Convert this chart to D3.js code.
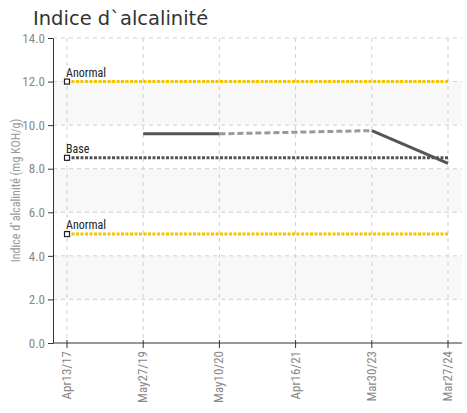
<!DOCTYPE html>
<html>
<head>
<meta charset="utf-8">
<script src="https://cdn.jsdelivr.net/npm/d3@7"></script>
<style>
  body { margin: 0; background: #fff; }
  svg text { font-family: "Liberation Sans Narrow", "Roboto Condensed", "Liberation Sans", sans-serif; }
</style>
</head>
<body>
<svg id="chart" width="467" height="413"></svg>
<script>
var dates = ["Apr13/17", "May27/19", "May10/20", "Apr16/21", "Mar30/23", "Mar27/24"];
var values = [null, 9.6, 9.6, null, 9.75, 8.25];
var yTicks = [0, 2, 4, 6, 8, 10, 12, 14];
var refNames = ["Anormal", "Base", "Anormal"];
var refValues = [12, 8.5, 5];
var refColors = ["#f5c400", "#555555", "#f5c400"];

var svg = d3.select("#chart"),
    MARGINS = {top: 38, right: 5, bottom: 70, left: 53},
    WIDTH = 467, HEIGHT = 413;

var xScale = d3.scalePoint()
    .domain(dates)
    .range([67, 448]);

var yScale = d3.scaleLinear()
    .domain([0, 14])
    .range([HEIGHT - MARGINS.bottom, MARGINS.top]);

var x0 = MARGINS.left, x1 = WIDTH - MARGINS.right;

// alternating bands
[[10, 12], [6, 8], [2, 4]].forEach(function(b){
    svg.append("rect")
        .attr("x", x0).attr("width", x1 - x0)
        .attr("y", yScale(b[1])).attr("height", yScale(b[0]) - yScale(b[1]))
        .attr("fill", "#f8f8f8");
});

// grid
svg.append("g").selectAll("line").data(yTicks.slice(1)).join("line")
    .attr("x1", x0).attr("x2", x1)
    .attr("y1", function(d){ return yScale(d); })
    .attr("y2", function(d){ return yScale(d); })
    .attr("stroke", "#d0d0d0").attr("stroke-dasharray", "4,4");
svg.append("g").selectAll("line").data(dates).join("line")
    .attr("x1", function(d){ return xScale(d); })
    .attr("x2", function(d){ return xScale(d); })
    .attr("y1", yScale(14)).attr("y2", yScale(0))
    .attr("stroke", "#d0d0d0").attr("stroke-dasharray", "4,4");

// reference lines
refValues.forEach(function(v, i){
    svg.append("line")
        .attr("x1", xScale(dates[0])).attr("x2", xScale(dates[dates.length - 1]))
        .attr("y1", yScale(v)).attr("y2", yScale(v))
        .attr("stroke", refColors[i]).attr("stroke-width", 3)
        .attr("stroke-dasharray", "3,1.5");
    svg.append("rect")
        .attr("x", xScale(dates[0]) - 2.5).attr("y", yScale(v) - 2.5)
        .attr("width", 5).attr("height", 5)
        .attr("fill", "#fff").attr("stroke", "#222").attr("stroke-width", 1.2);
    svg.append("text")
        .attr("x", xScale(dates[0]) - 1).attr("y", yScale(v) - 5)
        .attr("font-size", 12).attr("fill", "#222")
        .text(refNames[i]);
});

// series: dashed bridge over gaps, solid where consecutive
var pts = [];
values.forEach(function(v, i){ if (v != null) pts.push({x: dates[i], y: v, i: i}); });
var lineGen = d3.line()
    .x(function(d){ return xScale(d.x); })
    .y(function(d){ return yScale(d.y); });
for (var k = 1; k < pts.length; k++) {
    var a = pts[k - 1], b = pts[k];
    var gap = b.i - a.i > 1;
    svg.append("path")
        .attr("d", lineGen([a, b]))
        .attr("fill", "none")
        .attr("stroke", gap ? "#999" : "#555")
        .attr("stroke-width", 3)
        .attr("stroke-dasharray", gap ? "6,3" : null);
}

// axes
var yAxis = d3.axisLeft(yScale).tickValues(yTicks).tickFormat(d3.format(".1f")).tickSize(5).tickSizeOuter(0);
var gy = svg.append("g").attr("transform", "translate(" + x0 + ",0)").call(yAxis);
gy.select(".domain").attr("stroke", "#333");
gy.selectAll(".tick line").attr("stroke", "#333");
gy.selectAll(".tick text").attr("fill", "#888").attr("font-size", 13)
    .attr("font-family", "Liberation Sans Narrow, Roboto Condensed, sans-serif");

var gx = svg.append("g").attr("transform", "translate(0," + yScale(0) + ")");
gx.append("line").attr("x1", x0).attr("x2", x1).attr("stroke", "#333");
gx.selectAll("line.t").data(dates).join("line").attr("class", "t")
    .attr("x1", function(d){ return xScale(d); })
    .attr("x2", function(d){ return xScale(d); })
    .attr("y1", -3).attr("y2", 5).attr("stroke", "#333");
gx.selectAll("text").data(dates).join("text")
    .attr("transform", function(d){ return "translate(" + (xScale(d) + 4) + ",8) rotate(-90)"; })
    .attr("text-anchor", "end")
    .attr("font-size", 13).attr("fill", "#888")
    .text(function(d){ return d; });

// y label
svg.append("text")
    .attr("transform", "translate(20," + ((MARGINS.top + yScale(0)) / 2) + ") rotate(-90)")
    .attr("text-anchor", "middle")
    .attr("font-size", 12).attr("fill", "#999")
    .text("Indice d`alcalinité (mg KOH/g)");

// title
svg.append("text")
    .attr("x", 33).attr("y", 25)
    .attr("font-size", 19.5).attr("fill", "#333")
    .style("font-family", "DejaVu Sans, sans-serif")
    .text("Indice d`alcalinité");
</script>
</body>
</html>
